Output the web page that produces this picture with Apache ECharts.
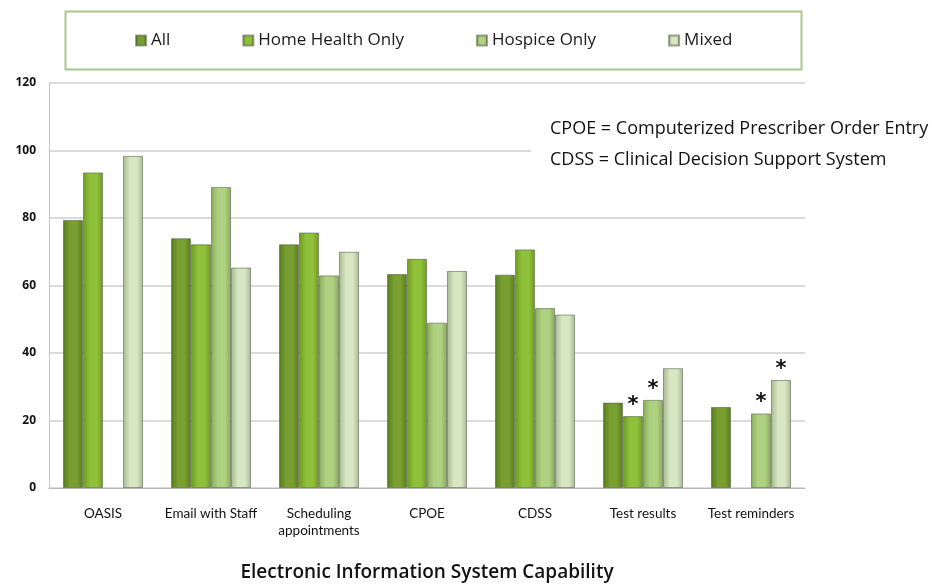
<!DOCTYPE html>
<html>
<head>
<meta charset="utf-8">
<script src="https://cdn.jsdelivr.net/npm/echarts@6/dist/echarts.min.js"></script>
<style>
  html, body { margin: 0; padding: 0; background: #ffffff; }
  #chart { width: 940px; height: 585px; }
</style>
</head>
<body>
<div id="chart"></div>
<script>
// Capability categories along the x axis
const categories = ['OASIS', 'Email with Staff', 'Scheduling\nappointments', 'CPOE', 'CDSS', 'Test results', 'Test reminders'];

// Percent of agencies with each capability, by agency type ('-' = not reported)
const allAgencies     = [79.4, 74.0, 72.2, 63.4, 63.2, 25.3, 24.0];
const homeHealthOnly  = [93.5, 72.2, 75.7, 67.9, 70.7, 21.3, '-'];
const hospiceOnly     = ['-', 89.2, 63.0, 49.0, 53.3, 26.1, 22.1];
const mixed           = [98.4, 65.3, 70.0, 64.3, 51.4, 35.5, 32.0];

// Bars flagged with an asterisk (series name -> category indexes)
const flagged = {
  'Home Health Only': [5],
  'Hospice Only': [5, 6],
  'Mixed': [6]
};

const yTicks = [0, 20, 40, 60, 80, 100, 120];

function barFill(edge, mid) {
  return new echarts.graphic.LinearGradient(0, 0, 1, 0, [
    { offset: 0, color: edge },
    { offset: 0.35, color: mid },
    { offset: 0.7, color: mid },
    { offset: 1, color: edge }
  ]);
}

const palette = {
  'All':              ['#587a1c', '#789f30'],
  'Home Health Only': ['#6c9a20', '#90c13a'],
  'Hospice Only':     ['#87ab57', '#afd282'],
  'Mixed':            ['#a5b993', '#d6e7c2']
};

function makeSeries(name, values) {
  const marks = flagged[name] || [];
  return {
    name: name,
    type: 'bar',
    barWidth: 20,
    barGap: '0%',
    itemStyle: {
      color: barFill(palette[name][0], palette[name][1]),
      borderColor: 'rgba(80,90,70,0.55)',
      borderWidth: 1
    },
    data: values.map((v, i) => {
      if (marks.indexOf(i) === -1) return v;
      return {
        value: v,
        label: {
          show: true,
          position: 'top',
          distance: 0,
          formatter: '*',
          fontSize: 21,
          fontWeight: 'bold',
          fontFamily: 'DejaVu Sans',
          color: '#111'
        }
      };
    })
  };
}

const chart = echarts.init(document.getElementById('chart'), null, { renderer: 'canvas' });

chart.setOption({
  animation: false,
  backgroundColor: '#ffffff',
  grid: { left: 49, right: 135, top: 83, bottom: 97, outerBoundsMode: 'none' },
  legend: {
    left: 135,
    top: 32,
    padding: 0,
    itemWidth: 10,
    itemHeight: 10,
    itemGap: 72,
    icon: 'rect',
    textStyle: { fontFamily: 'Open Sans', fontSize: 17, color: '#1a1a1a' },
    data: ['All', 'Home Health Only', 'Hospice Only', 'Mixed']
  },
  xAxis: {
    type: 'category',
    data: categories,
    name: 'Electronic Information System Capability',
    nameLocation: 'middle',
    nameGap: 75,
    nameTextStyle: { fontFamily: 'Open Sans', fontWeight: 600, fontSize: 19, color: '#111' },
    axisLine: { lineStyle: { color: '#b8b8b8' } },
    axisTick: { show: false },
    axisLabel: {
      margin: 17,
      interval: 0,
      fontFamily: 'Lato',
      fontSize: 13.5,
      color: '#111',
      lineHeight: 17
    }
  },
  yAxis: {
    type: 'value',
    min: yTicks[0],
    max: yTicks[yTicks.length - 1],
    interval: yTicks[1] - yTicks[0],
    axisLine: { show: true, lineStyle: { color: '#c4c4c4' } },
    axisTick: { show: false },
    axisLabel: {
      margin: 13,
      fontFamily: 'Open Sans',
      fontWeight: 'bold',
      fontSize: 12,
      color: '#111'
    },
    splitLine: { lineStyle: { color: '#cfcfcf', width: 1.5 } }
  },
  graphic: [
    {
      type: 'rect',
      left: 63, top: 9,
      shape: { width: 736, height: 58 },
      style: { fill: 'none', stroke: '#a9c78c', lineWidth: 2 },
      z: 10
    },
    {
      type: 'rect',
      left: 531, top: 100,
      shape: { width: 409, height: 78 },
      style: { fill: '#ffffff' },
      z: 5
    },
    {
      type: 'text',
      left: 550, top: 113,
      style: {
        text: 'CPOE = Computerized Prescriber Order Entry\nCDSS = Clinical Decision Support System',
        font: '18px "Open Sans"',
        lineHeight: 31,
        fill: '#111'
      },
      z: 6
    }
  ],
  series: [
    makeSeries('All', allAgencies),
    makeSeries('Home Health Only', homeHealthOnly),
    makeSeries('Hospice Only', hospiceOnly),
    makeSeries('Mixed', mixed)
  ]
});
</script>
</body>
</html>
